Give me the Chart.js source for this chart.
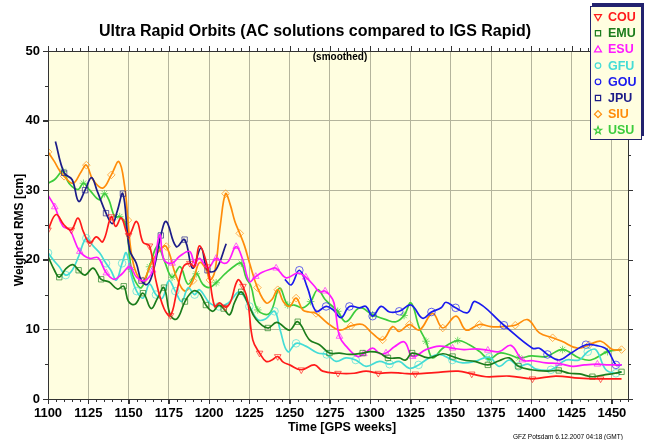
<!DOCTYPE html>
<html><head><meta charset="utf-8">
<script src="https://cdn.jsdelivr.net/npm/chart.js@4.4.0/dist/chart.umd.min.js"></script>
<style>html,body{margin:0;padding:0;background:#fff;}canvas{display:block;}</style>
</head><body>
<canvas id="c" width="647" height="440"></canvas>
<script>
// ---- data (GPS week, weighted RMS in cm) ----
const seriesNames = ['COU','EMU','ESU','GFU','GOU','JPU','SIU','USU'];

const weeksCOU = [1100,1105,1110,1114.5,1118.6,1122,1126,1130,1134,1139.3,1142,1145.5,1150,1155,1159,1163,1167,1172,1176,1180,1184,1188,1191,1194,1199,1203.4,1206.5,1210,1213,1217.8,1221,1224,1227.1,1231.3,1235.4,1239,1242.6,1246,1250,1257.2,1265.4,1270.5,1280,1290,1297.4,1305,1313,1320,1328,1340,1354.6,1363,1371.9,1386.3,1400.7,1415.2,1429.7,1443,1456];
const rmsCOU   = [24.3,26.5,25,24.3,26,24,22.4,23.3,22.6,26.2,24.8,26,23.5,25.5,22.5,22,17,13,12,15.5,19,19.5,19,22,19,13.3,13.8,13.2,13.8,17.1,16.2,14,8.5,6.6,5.4,5.6,6.1,5.3,4.9,4.2,4.9,4.0,3.7,3.7,4.0,3.7,3.8,3.7,3.6,3.8,4.0,3.6,3.2,3.3,2.9,3.3,3.0,2.9,2.9];

const weeksEMU = [1100,1104,1107,1111,1115.5,1119,1123,1128,1133,1138,1143,1147,1150,1154,1159,1164,1168,1172,1176,1180,1185,1190,1194,1198,1202.3,1206,1209,1212.7,1216,1219.9,1224,1229,1236.4,1242,1249.9,1255,1262.3,1268.5,1274.7,1280.9,1287,1295.3,1300,1305.7,1311,1318,1322,1326,1336,1345,1351.1,1358,1365,1373,1380,1386.3,1392,1400,1410,1417,1423.5,1430,1437.9,1446,1452,1456];
const rmsEMU   = [20.5,18.5,17.5,18.7,19.3,18.5,17.8,18.8,17.2,16.8,15.8,16.2,14,13.6,15.2,13,14.5,16,12,11.5,14,15.5,15.2,13.5,12.6,13.5,13,12.1,14,15.4,13.8,11.5,10.2,11,9.9,11.1,8.5,7.8,6.6,6.6,6.4,6.6,6.8,6.6,5.9,5.9,5.6,6.6,5.9,6.5,6.1,5.6,5.4,4.9,5.5,5.9,4.7,4.2,4.0,4.1,3.7,3.6,3.2,3.5,3.7,3.9];

const weeksESU = [1100,1104.2,1109.3,1113.5,1119.7,1125.9,1131,1136.2,1141,1146,1150.7,1155,1160,1165,1169.3,1172,1177,1181.7,1187.9,1191,1194,1199.2,1204.4,1209,1212,1216.8,1220.9,1225,1229,1233,1237.5,1241.6,1247.8,1255,1260,1265.4,1268.5,1272,1276.7,1278.5,1280.9,1285,1292.2,1296,1301.5,1306,1309.8,1315,1321.2,1326.3,1334.6,1342.9,1351.1,1358,1365.6,1373,1380,1387.3,1394.5,1401,1409.1,1417,1425.6,1433,1441,1448,1456];
const rmsESU   = [29.3,27.6,24.8,24.3,21.2,20.2,20.3,18.1,17.2,18,19,17.5,17,18.5,23.6,20,19.5,20.5,21.2,19.5,20.2,18.8,20.2,19.5,19.8,21.9,20,16.9,17.6,18.2,18.6,18.8,17.4,18.1,17.5,16.2,15.4,15.5,14.3,12.5,9,7.6,6.1,6.5,7.3,6.5,6.6,7.5,8.2,6.1,7.1,7.6,7.3,7.1,7.2,7,6.8,7.7,5.6,5.5,5.2,5.1,4.7,4.9,5.0,4.9,4.9];

const weeksGFU = [1100,1104,1107,1111,1115,1119,1123.8,1128,1132,1136,1139,1142.4,1146,1148.6,1152,1155,1159,1163,1167,1171,1175,1179,1183,1187,1191,1194,1200.3,1206,1212,1218.9,1225,1230.2,1235,1240.6,1244,1248.8,1254,1260,1267.4,1273,1278.8,1285,1291,1297.4,1305.7,1312,1318,1324.3,1330,1336.5,1343,1351,1357.4,1365,1373.9,1380,1386.3,1392,1398,1402.9,1412.2,1421.5,1429.7,1435,1440,1446.3,1452.5,1456];
const rmsGFU   = [21,19.8,19,17.8,18.5,20.5,23.1,22,21,19.5,18.5,17.1,19.5,21,17.5,15.5,14.5,16.5,15,14.5,17,15.5,14,16,15,15.7,13.8,13.3,13.8,15.4,13.3,11.4,11.5,12.6,10,6.8,8,7.6,6.6,6.4,5.4,5.9,5.6,4.7,5.4,5.0,5.4,4.4,4.9,5.9,6.4,5.6,5.2,5.4,6.0,4.7,5.6,4.7,5.0,4.3,4.2,5.6,5.6,6.8,7.1,4.2,3.7,3.9];

const weeksGOU = [1247,1251,1256,1261,1266.4,1272.6,1277,1281.9,1287.1,1293.3,1297.4,1301.5,1306.7,1312,1318,1325.3,1332.5,1338,1344,1347,1353,1360.4,1365.2,1383,1400.7,1405,1410,1417.3,1424,1433.9,1440,1447,1452.5,1456];
const rmsGOU   = [17.2,16.4,18.5,16,12.6,13.3,12.8,11.7,13.3,13.1,13.3,11.9,13.3,12.5,12.6,13.5,11.6,12.5,13.1,13.9,13.1,12.4,14.0,10.6,7.3,7.3,6.4,5.6,6.5,7.8,7.7,7.1,4.9,4.9];

const weeksJPU = [1104.6,1110,1115,1119,1123,1127,1130.5,1136,1140,1143,1146.5,1150.7,1154.8,1158,1162,1166,1170,1173.4,1179.6,1184.8,1189.7,1195,1199,1204,1210.6];
const rmsJPU   = [37,32.5,31.5,28.4,30,31.8,29.9,26.7,25.2,27,29.5,21.4,19.5,17,16.5,19,23.5,25.5,21.9,22.9,18.8,21.7,18.5,18.5,22.3];

const weeksSIU = [1100,1104,1107,1110,1115.5,1120.7,1123.8,1127.9,1134,1139.3,1144,1147.6,1149.6,1151.7,1154.8,1159,1164,1169.3,1173.4,1179.6,1185,1190,1194,1198.2,1200.5,1203.5,1207,1210.2,1213,1216,1219,1222,1225,1230,1235.4,1239,1242.6,1246,1249.9,1254,1258.1,1262,1266.4,1273,1280.9,1288,1295.3,1301,1307.7,1313.9,1318,1324.3,1330.5,1338.7,1345,1353.3,1359.5,1367.7,1375,1382.2,1390,1397.7,1405,1413.2,1419,1428.7,1435.9,1443.2,1450.4,1456];
const rmsSIU   = [35.5,34.1,32.9,32,31,32.7,33.6,31.5,30.3,32.2,34.1,30.5,25.7,21,18.1,17,19.5,21.4,21.9,17.6,15.5,17,19.6,18.6,17.1,18.3,25,29.5,28,25.5,23.8,22,19.6,16,13.8,14.3,15.7,14,13.3,14.5,12.8,12.5,12.3,11,9.9,10.5,10.7,9.5,8.5,10.4,9.7,10.7,9.9,12.3,10.2,11.9,9.9,10.7,10.4,10.4,10.6,11.4,9.5,8.8,8.3,7.3,7.8,8.3,7.1,7.1];

const weeksUSU = [1100,1104,1109.3,1113,1118.6,1122,1125.9,1132,1135,1137.8,1141.4,1144.5,1147.6,1149.6,1151.7,1154,1158,1163,1168,1172,1177,1182,1187,1192,1196,1200,1204.4,1210,1216.8,1220,1223,1226,1230.2,1237.5,1243.7,1248.8,1253,1258.1,1263,1267.4,1272,1279.8,1285,1293.3,1301.5,1309.8,1316,1321,1325.3,1330.5,1334.6,1338.7,1345,1354.3,1361.5,1368,1373.9,1380,1386,1392.5,1400,1409.1,1419.4,1429.7,1437,1447.3,1456];
const rmsUSU   = [31,31.5,32.7,31,30.1,31,30,28.6,29.5,28.6,26.2,26.2,25.5,22.9,18.6,17,16,19,22,20,17.5,19,16.5,18,16.5,16,16.7,18,19.3,19.5,17.4,16.2,12.8,12.3,15.9,13.5,13.5,13.1,14,15.7,14.3,12.6,11.1,13.1,12.1,11.4,11.1,12,13.8,10.2,8.3,5.9,7.3,8.4,7.8,6.8,5.7,6.6,6.4,5.9,6.2,6.1,7.1,5.9,5.6,6.8,7.1];

const xTickLabels = [1100,1125,1150,1175,1200,1225,1250,1275,1300,1325,1350,1375,1400,1425,1450];
const yTickLabels = [0,10,20,30,40,50];

// ---- styles ----
const styles = {
  COU:{color:'#ff1a1a', point:'triangle', rot:180},
  EMU:{color:'#1b7c1b', point:'rect', rot:0},
  ESU:{color:'#ff1aff', point:'triangle', rot:0},
  GFU:{color:'#44dcd6', point:'circle', rot:0},
  GOU:{color:'#1a1aee', point:'circle', rot:0},
  JPU:{color:'#1c1c88', point:'rect', rot:0},
  SIU:{color:'#ff8c0a', point:'rectRot', rot:0},
  USU:{color:'#3ccc3c', point:'star', rot:0}
};
const seriesData = {
  COU:[weeksCOU,rmsCOU], EMU:[weeksEMU,rmsEMU], ESU:[weeksESU,rmsESU], GFU:[weeksGFU,rmsGFU],
  GOU:[weeksGOU,rmsGOU], JPU:[weeksJPU,rmsJPU], SIU:[weeksSIU,rmsSIU], USU:[weeksUSU,rmsUSU]
};

const FONT = '"Liberation Sans", Arial, Helvetica, sans-serif';

const datasets = seriesNames.map((n, k) => {
  const [w, v] = seriesData[n];
  const st = styles[n];
  return {
    label: n,
    data: w.map((x, i) => ({x: x, y: v[i]})),
    borderColor: st.color,
    backgroundColor: 'transparent',
    borderWidth: 1.7,
    tension: 0.4,
    pointStyle: st.point,
    rotation: st.rot,
    pointRotation: st.rot,
    pointRadius: ctx => ((ctx.dataIndex + k) % 3 === 0 ? 3.8 : 0),
    pointBorderWidth: 1,
    pointBorderColor: st.color + 'aa',
    pointBackgroundColor: 'transparent',
    pointHoverRadius: 0
  };
});

function drawSymbol(ctx, style, x, y, r, color) {
  ctx.save();
  ctx.strokeStyle = color; ctx.lineWidth = 1.2;
  ctx.beginPath();
  if (style === 'triangle' || style === 'triangleDown') {
    const s = style === 'triangle' ? -1 : 1;
    ctx.moveTo(x - r, y - s * r * 0.7);
    ctx.lineTo(x + r, y - s * r * 0.7);
    ctx.lineTo(x, y + s * r);
    ctx.closePath();
  } else if (style === 'rect') {
    ctx.rect(x - r * 0.75, y - r * 0.75, r * 1.5, r * 1.5);
  } else if (style === 'circle') {
    ctx.arc(x, y, r * 0.8, 0, Math.PI * 2);
  } else if (style === 'rectRot') {
    ctx.moveTo(x, y - r); ctx.lineTo(x + r, y); ctx.lineTo(x, y + r); ctx.lineTo(x - r, y); ctx.closePath();
  } else if (style === 'star') {
    for (let i = 0; i < 10; i++) {
      const a = -Math.PI / 2 + i * Math.PI / 5;
      const rr = i % 2 === 0 ? r * 1.1 : r * 0.45;
      const px = x + rr * Math.cos(a), py = y + rr * Math.sin(a);
      if (i === 0) ctx.moveTo(px, py); else ctx.lineTo(px, py);
    }
    ctx.closePath();
  }
  ctx.stroke();
  ctx.restore();
}

const decor = {
  id: 'decor',
  beforeDraw(chart) {
    const {ctx, chartArea: a} = chart;
    ctx.save();
    ctx.fillStyle = '#fffee0';
    ctx.fillRect(a.left, a.top, a.right - a.left, a.bottom - a.top);
    ctx.restore();
  },
  afterDraw(chart) {
    const {ctx, chartArea: a} = chart;
    const xs = chart.scales.x, ys = chart.scales.y;
    ctx.save();
    // frame
    ctx.strokeStyle = '#333';
    ctx.lineWidth = 1;
    ctx.strokeRect(Math.round(a.left) + 0.5, Math.round(a.top) + 0.5, Math.round(a.right - a.left), Math.round(a.bottom - a.top));
    // minor/major ticks on all sides
    ctx.beginPath();
    for (let w = 1100; w <= 1460; w += 5) {
      const px = Math.round(xs.getPixelForValue(w)) + 0.5;
      const major = (w % 25 === 0);
      const len = major ? 5 : 3;
      ctx.moveTo(px, a.bottom); ctx.lineTo(px, a.bottom + len);
      ctx.moveTo(px, a.top); ctx.lineTo(px, a.top - len);
    }
    for (let v = 0; v <= 50; v += 5) {
      const py = Math.round(ys.getPixelForValue(v)) + 0.5;
      const major = (v % 10 === 0);
      const len = major ? 5 : 3;
      ctx.moveTo(a.left, py); ctx.lineTo(a.left - len, py);
      ctx.moveTo(a.right, py); ctx.lineTo(a.right + len, py);
    }
    ctx.stroke();

    // titles
    ctx.fillStyle = '#000';
    ctx.textAlign = 'center';
    ctx.textBaseline = 'middle';
    ctx.font = 'bold 16px ' + FONT;
    ctx.fillText('Ultra Rapid Orbits (AC solutions compared to IGS Rapid)', 315, 32);
    ctx.font = 'bold 10px ' + FONT;
    ctx.fillText('(smoothed)', 340, 57);
    ctx.font = 'bold 12.5px ' + FONT;
    ctx.fillText('Time [GPS weeks]', 342, 428);
    ctx.save();
    ctx.translate(20, 230);
    ctx.rotate(-Math.PI / 2);
    ctx.font = 'bold 12px ' + FONT;
    ctx.fillText('Weighted RMS [cm]', 0, 0);
    ctx.restore();
    ctx.font = '6.5px ' + FONT;
    ctx.textAlign = 'left';
    ctx.fillText('GFZ Potsdam 6.12.2007 04:18 (GMT)', 513, 437);

    // legend
    const lx = 590, ly = 6, lw = 51, lh = 133;
    ctx.fillStyle = '#22226e';
    ctx.fillRect(lx + 2, ly - 3, lw + 1, lh);
    ctx.fillStyle = '#fffee0';
    ctx.fillRect(lx, ly, lw, lh);
    ctx.strokeStyle = '#22226e';
    ctx.lineWidth = 1;
    ctx.strokeRect(lx + 0.5, ly + 0.5, lw, lh);
    ctx.font = 'bold 12.5px ' + FONT;
    ctx.textBaseline = 'middle';
    seriesNames.forEach((n, i) => {
      const st = styles[n];
      const y = 17 + i * 16.2;
      const ps = (n === 'COU') ? 'triangleDown' : st.point;
      drawSymbol(ctx, ps, 598, y, 3.5, st.color);
      ctx.fillStyle = st.color;
      ctx.fillText(n, 608, y + 0.5);
    });
    ctx.restore();
  }
};

new Chart(document.getElementById('c'), {
  type: 'line',
  data: { datasets },
  options: {
    responsive: false,
    animation: false,
    events: [],
    devicePixelRatio: 1,
    layout: { padding: { top: 51, right: 19, left: 0, bottom: 0 } },
    plugins: { legend: { display: false }, title: { display: false }, tooltip: { enabled: false } },
    scales: {
      x: {
        type: 'linear', min: 1100, max: 1460,
        afterFit: s => { s.height = 41; },
        afterBuildTicks: s => { s.ticks = xTickLabels.map(v => ({value: v})); },
        ticks: { color: '#000', font: { family: FONT, size: 13, weight: 'bold' }, padding: 2, maxRotation: 0, autoSkip: false, callback: v => String(v) },
        grid: { color: '#b4b49c', lineWidth: 1, tickLength: 5, tickColor: '#333' },
        border: { display: false }
      },
      y: {
        type: 'linear', min: 0, max: 50,
        afterFit: s => { s.width = 48; },
        afterBuildTicks: s => { s.ticks = yTickLabels.map(v => ({value: v})); },
        ticks: { color: '#000', font: { family: FONT, size: 13, weight: 'bold' }, padding: 3, callback: v => String(v) },
        grid: { color: '#b4b49c', lineWidth: 1, tickLength: 5, tickColor: '#333' },
        border: { display: false }
      }
    }
  },
  plugins: [decor]
});
</script>
</body></html>
